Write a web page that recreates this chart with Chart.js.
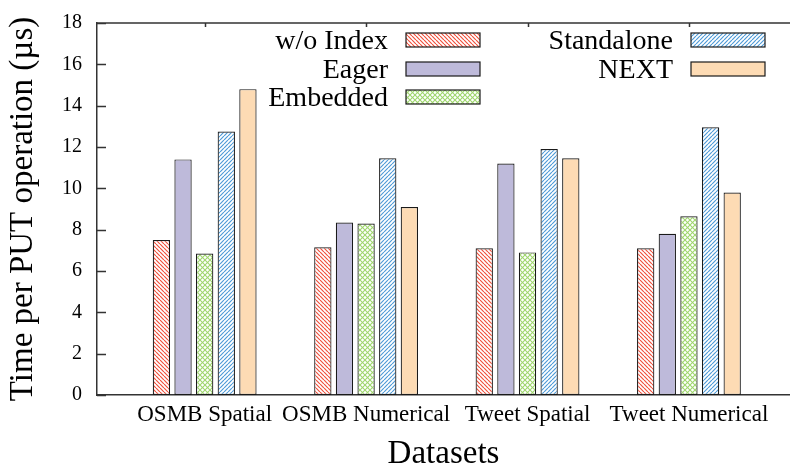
<!DOCTYPE html>
<html lang="en">
<head>
<meta charset="UTF-8">
<title>Time per PUT operation</title>
<script src="https://cdn.jsdelivr.net/npm/chart.js"></script>
<style>
  html, body { margin: 0; padding: 0; background: #fff; }
</style>
</head>
<body>
<canvas id="chart" width="790" height="471"></canvas>
<script>
// data (microseconds)
const categories = ['OSMB Spatial', 'OSMB Numerical', 'Tweet Spatial', 'Tweet Numerical'];
const seriesNames = ['w/o Index', 'Eager', 'Embedded', 'Standalone', 'NEXT'];
const woIndex    = [7.5, 7.15, 7.1, 7.1];
const eager      = [11.4, 8.35, 11.2, 7.8];
const embedded   = [6.85, 8.3, 6.9, 8.65];
const standalone = [12.75, 11.45, 11.9, 12.95];
const next       = [14.8, 9.1, 11.45, 9.8];
const yTicks     = [0, 2, 4, 6, 8, 10, 12, 14, 16, 18];

const FONT = '"Liberation Serif", "Times New Roman", serif';

// hatch fills like gnuplot's patterns
function hatch(color, dirs, size, width) {
    const c = document.createElement('canvas');
    c.width = size;
    c.height = size;
    const g = c.getContext('2d');
    g.fillStyle = '#ffffff';
    g.fillRect(0, 0, size, size);
    g.strokeStyle = color;
    g.lineWidth = width;
    dirs.forEach(d => {
        g.beginPath();
        for (let k = -1; k <= 1; k++) {
            if (d === 'down') {
                g.moveTo(k * size, 0);
                g.lineTo(k * size + size, size);
            } else {
                g.moveTo(k * size, size);
                g.lineTo(k * size + size, 0);
            }
        }
        g.stroke();
    });
    return g.createPattern(c, 'repeat');
}

const ctx = document.getElementById('chart').getContext('2d');
const fills = [
    hatch('rgb(240,80,60)', ['down'], 4, 1.2),
    '#bebada',
    hatch('rgb(160,214,110)', ['down', 'up'], 5, 1.1),
    hatch('rgb(80,155,215)', ['up'], 4, 1.2),
    '#fddbb4'
];
const values = [woIndex, eager, embedded, standalone, next];

const datasets = values.map((vals, i) => ({
    label: seriesNames[i],
    data: vals.map((v, j) => ({ x: j, y: v })),
    backgroundColor: fills[i],
    borderColor: '#1a1a1a',
    borderWidth: 1.2,
    borderSkipped: false,
    categoryPercentage: 0.67,
    barPercentage: 0.8
}));

// frame top line and inward tick marks
const framePlugin = {
    id: 'frame',
    afterDraw(chart) {
        const { left, right, top } = chart.chartArea;
        const c = chart.ctx;
        c.save();
        c.strokeStyle = '#333';
        c.lineWidth = 1.5;
        c.beginPath();
        c.moveTo(left, top);
        c.lineTo(right, top);
        const ys = chart.scales.y;
        ys.ticks.forEach(t => {
            const y = Math.round(ys.getPixelForValue(t.value)) + 0.5;
            c.moveTo(left, y);
            c.lineTo(left + 9, y);
        });
        const xs = chart.scales.x;
        xs.ticks.forEach(t => {
            const x = Math.round(xs.getPixelForValue(t.value)) + 0.5;
            c.moveTo(x, top);
            c.lineTo(x, top + 4);
        });
        c.stroke();
        c.restore();
    }
};

// two-column legend, text to the left of the sample box
const legendPlugin = {
    id: 'keyBox',
    afterDraw(chart) {
        const c = chart.ctx;
        const cols = [{ textRight: 388, boxLeft: 406 }, { textRight: 673, boxLeft: 691 }];
        const rowY = [40, 69, 97];
        c.save();
        c.font = '28px ' + FONT;
        c.textAlign = 'right';
        c.textBaseline = 'middle';
        chart.data.datasets.forEach((ds, i) => {
            const col = cols[i < 3 ? 0 : 1];
            const y = rowY[i < 3 ? i : i - 3];
            c.fillStyle = '#000';
            c.fillText(ds.label, col.textRight, y + 2);
            c.fillStyle = ds.backgroundColor;
            c.fillRect(col.boxLeft, y - 7, 74, 14);
            c.strokeStyle = '#1a1a1a';
            c.lineWidth = 1.2;
            c.strokeRect(col.boxLeft, y - 7, 74, 14);
        });
        c.restore();
    }
};

new Chart(ctx, {
    type: 'bar',
    data: { datasets: datasets },
    options: {
        responsive: false,
        animation: false,
        layout: { padding: { top: 23, right: 0, left: 0, bottom: 0 } },
        plugins: {
            legend: { display: false },
            tooltip: { enabled: false }
        },
        scales: {
            x: {
                type: 'linear',
                offset: false,
                min: -0.667,
                max: 3.626,
                grid: { display: false },
                border: { display: true, color: '#333', width: 1.5 },
                ticks: {
                    stepSize: 1,
                    includeBounds: false,
                    autoSkip: false,
                    maxRotation: 0,
                    padding: 0,
                    color: '#000',
                    font: { family: FONT, size: 23, lineHeight: 1 },
                    callback: v => categories[v] ?? ''
                },
                title: {
                    display: true,
                    text: 'Datasets',
                    color: '#000',
                    font: { family: FONT, size: 33, lineHeight: 1 },
                    padding: { top: 0, bottom: 0 }
                },
                afterFit: s => { s.height = 76; }
            },
            y: {
                min: 0,
                max: 18,
                grid: { display: false },
                border: { display: true, color: '#333', width: 1.5 },
                afterBuildTicks: s => { s.ticks = yTicks.map(v => ({ value: v })); },
                ticks: {
                    padding: 7,
                    color: '#000',
                    font: { family: FONT, size: 20 }
                },
                title: {
                    display: true,
                    text: 'Time per PUT operation (µs)',
                    color: '#000',
                    font: { family: FONT, size: 33 },
                    padding: { top: 4, bottom: 0 }
                },
                afterFit: s => { s.width = 97; }
            }
        }
    },
    plugins: [framePlugin, legendPlugin]
});
</script>
</body>
</html>
